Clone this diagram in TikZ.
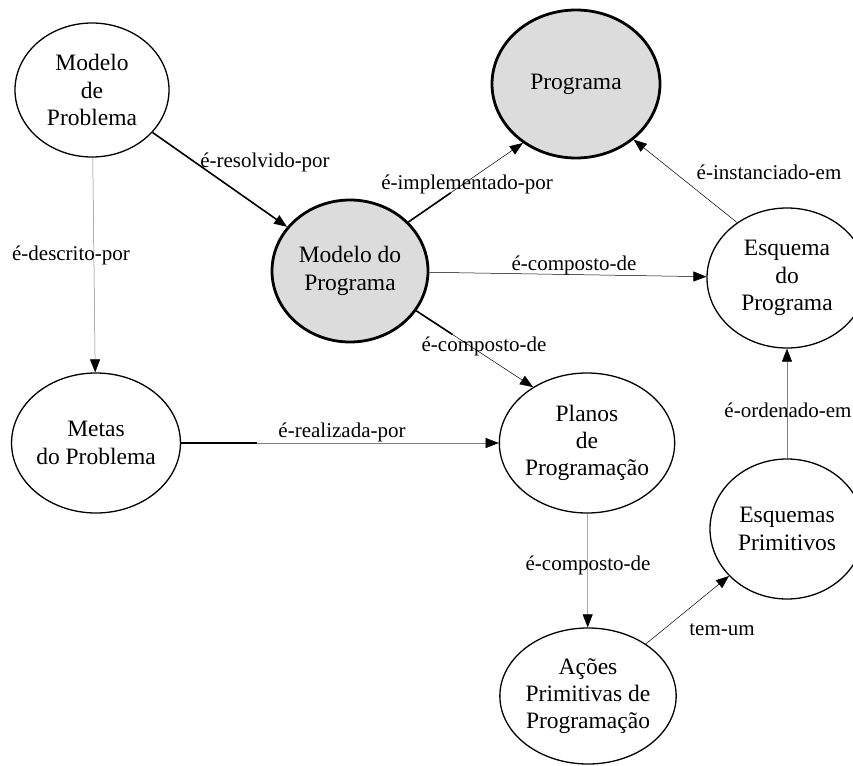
\documentclass[tikz,border=0pt]{standalone}
\usepackage{fontspec}
\setmainfont{Liberation Serif}
\usetikzlibrary{positioning,arrows.meta,calc,shapes.geometric}
\definecolor{keyFill}{HTML}{DCDCDC}
\definecolor{lineGray}{HTML}{808080}

\begin{document}
\begin{tikzpicture}[
  x=1pt, y=-1pt,
  ent/.style={ellipse, draw, line width=1.3pt, align=center, inner sep=0pt,
              font=\fontsize{23.5}{27.3}\selectfont},
  keyent/.style={ent, line width=2.8pt, fill=keyFill},
  rel/.style={-{Triangle[length=13pt,width=10pt]}, line width=0.5pt},
  relgray/.style={-{Triangle[length=13pt,width=10pt,color=black]}, line width=0.5pt, draw=lineGray},
  stub/.style={line width=1.6pt, line cap=butt},
  lbl/.style={font=\fontsize{21}{24}\selectfont, inner sep=0pt},
]
\useasboundingbox (0,0) rectangle (853,765);

% ---- Conceitos ----
\node[ent, minimum width=154pt, minimum height=134pt]    (mprob)  at (92,90)   {Modelo\\de\\Problema};
\node[keyent, minimum width=156pt, minimum height=142pt] (mprog)  at (350,271) {Modelo do\\Programa};
\node[keyent, minimum width=168pt, minimum height=148pt] (prog)   at (576,84)  {Programa};
\node[ent, minimum width=160pt, minimum height=140pt]    (esq)    at (787,278) {Esquema\\do\\Programa};
\node[ent, minimum width=154pt, minimum height=140pt]    (metas)  at (96,443)  {Metas\\do Problema};
\node[ent, minimum width=154pt, minimum height=140pt]    (planos) at (587,443) {Planos\\de\\Programação};
\node[ent, minimum width=154pt, minimum height=140pt]    (eprim)  at (787,529) {Esquemas\\Primitivos};
\node[ent, minimum width=164pt, minimum height=136pt]    (acoes)  at (588,696) {Ações\\Primitivas de\\Programação};

% ---- Relações ----
\draw[rel, stub]  (mprob) -- (mprog);
\draw[relgray]    (mprob) -- (metas);
\draw[rel]        (mprog.40) -- (prog.228);
\draw[stub]       (mprog.40) -- ($(mprog.40)!0.37!(prog.228)$);
\draw[rel]        (esq.132) -- (prog.316);
\draw[rel]        (mprog) -- (esq);
\draw[rel]        (mprog.-31) -- (planos.134);
\draw[stub]       (mprog.-31) -- ($(mprog.-31)!0.31!(planos.134)$);
\draw[relgray]    (metas) -- (planos);
\draw[stub]       (metas.east) -- ($(metas.east)!0.24!(planos.west)$);
\draw[relgray]    (planos) -- (acoes);
\draw[rel]        (acoes.42) -- (eprim.219);
\draw[relgray]    (eprim) -- (esq);

% ---- Rótulos ----
\node[lbl] (lresol)  at (265,162) {é-resolvido-por};
\node[lbl] (ldescr)  at (71,255)  {é-descrito-por};
\node[lbl] (limpl)   at (467,184) {é-implementado-por};
\node[lbl] (linst)   at (769,172) {é-instanciado-em};
\node[lbl] (lcompa)  at (574,265) {é-composto-de};
\node[lbl] (lcompb)  at (484,346) {é-composto-de};
\node[lbl] (lreal)   at (342,432) {é-realizada-por};
\node[lbl] (lcompc)  at (588,565) {é-composto-de};
\node[lbl] (ltem)    at (722,630) {tem-um};
\node[lbl] (lorden)  at (788,410) {é-ordenado-em};

\end{tikzpicture}
\end{document}
